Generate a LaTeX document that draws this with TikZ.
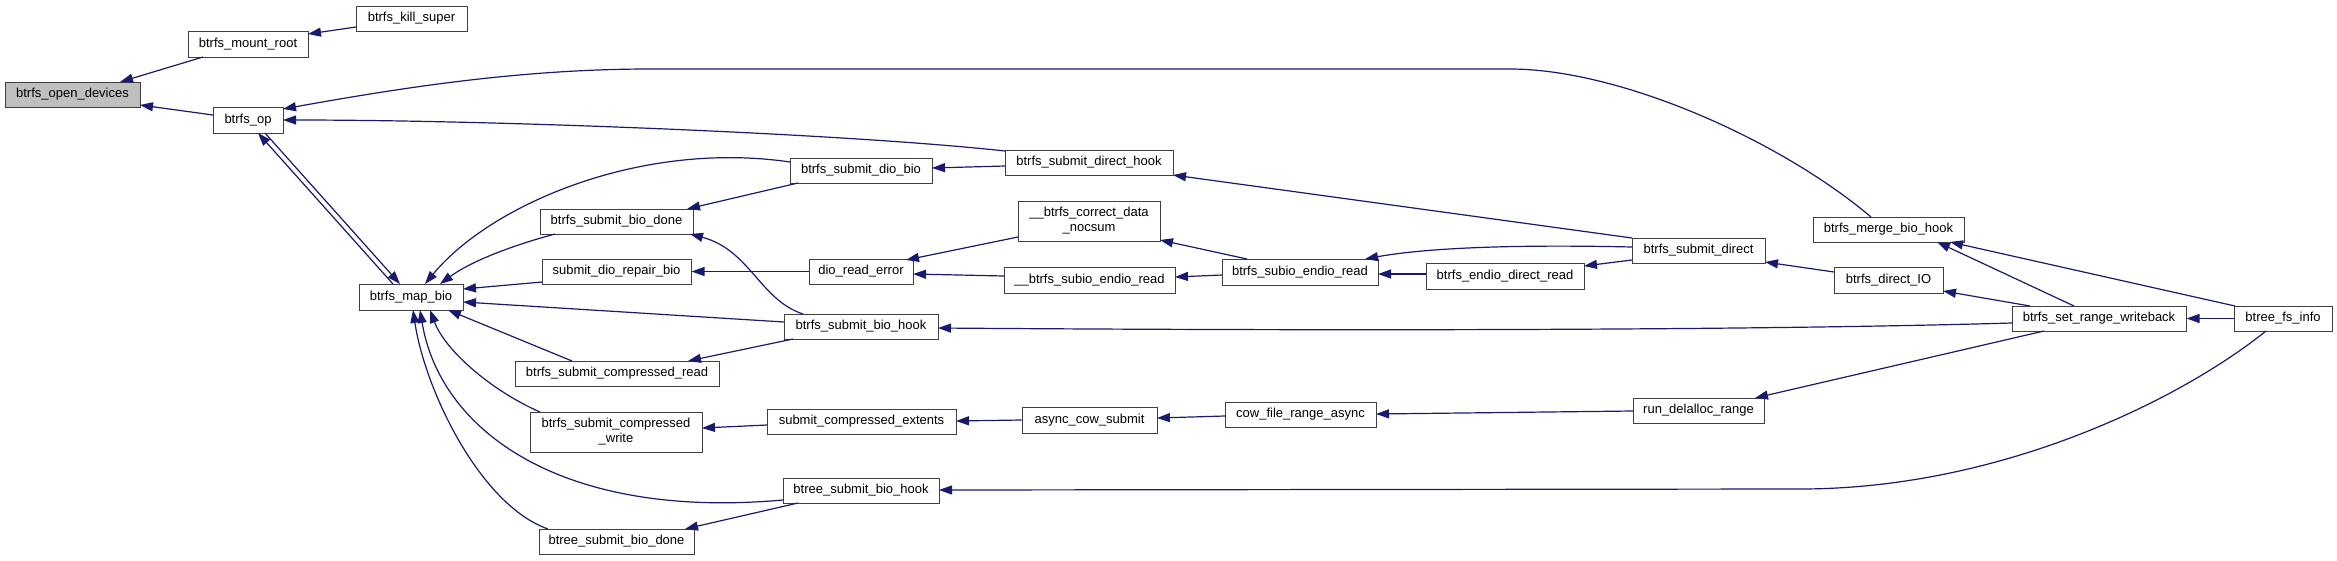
\documentclass[tikz,border=0pt]{standalone}
\usepackage{fontspec}
\setmainfont{Liberation Sans}
\usetikzlibrary{arrows.meta}
\definecolor{edgeblue}{HTML}{191970}
\begin{document}
\begin{tikzpicture}[x=1pt,y=-1pt,
  fn/.style={draw=black!75, line width=1pt, fill=white, inner sep=0pt,
    font=\fontsize{13}{15}\selectfont, align=center, text=black, minimum height=25},
  callarrow/.style={draw=edgeblue, line width=1.2pt, -{Triangle[length=13pt,width=9pt]}},
  ]
\fill[white] (0,0) rectangle (2337,560);
\useasboundingbox (0,0) rectangle (2337,560);

% nodes
\node[fn, fill=black!25, minimum width=135] (open) at (72.5,94.5) {btrfs\_open\_devices};
\node[fn, minimum width=120, minimum height=26] (mount) at (248,44) {btrfs\_mount\_root};
\node[fn, minimum width=111] (kill) at (411.5,18.5) {btrfs\_kill\_super};
\node[fn, minimum width=70, minimum height=26] (op) at (248,120) {btrfs\_op};
\node[fn, minimum width=104, minimum height=26] (mapbio) at (411,297) {btrfs\_map\_bio};
\node[fn, minimum width=142] (diobio) at (861,170.5) {btrfs\_submit\_dio\_bio};
\node[fn, minimum width=153] (biodone) at (616.5,221.5) {btrfs\_submit\_bio\_done};
\node[fn, minimum width=149] (repair) at (616.5,271.5) {submit\_dio\_repair\_bio};
\node[fn, minimum width=104] (dioerr) at (861,271.5) {dio\_read\_error};
\node[fn, minimum width=154] (biohook) at (861,326.5) {btrfs\_submit\_bio\_hook};
\node[fn, minimum width=204] (cread) at (617,373.5) {btrfs\_submit\_compressed\_read};
\node[fn, minimum width=172, minimum height=40] (cwrite) at (616,432) {btrfs\_submit\_compressed\\\_write};
\node[fn, minimum width=189] (cext) at (861.5,421.5) {submit\_compressed\_extents};
\node[fn, minimum width=156] (bthook) at (861,490.5) {btree\_submit\_bio\_hook};
\node[fn, minimum width=155] (btdone) at (616.5,541.5) {btree\_submit\_bio\_done};
\node[fn, minimum width=168] (dhook) at (1089,162.5) {btrfs\_submit\_direct\_hook};
\node[fn, minimum width=142, minimum height=40] (correct) at (1089,221) {\_\_btrfs\_correct\_data\\\_nocsum};
\node[fn, minimum width=171, minimum height=26] (usubio) at (1089.5,280) {\_\_btrfs\_subio\_endio\_read};
\node[fn, minimum width=135, minimum height=26] (acow) at (1089.5,420) {async\_cow\_submit};
\node[fn, minimum width=156, minimum height=26] (subio) at (1300,272) {btrfs\_subio\_endio\_read};
\node[fn, minimum width=151] (cowasync) at (1300.5,414.5) {cow\_file\_range\_async};
\node[fn, minimum width=158, minimum height=26] (endio) at (1505,276) {btrfs\_endio\_direct\_read};
\node[fn, minimum width=133] (sdirect) at (1698.5,250.5) {btrfs\_submit\_direct};
\node[fn, minimum width=131] (rundel) at (1698.5,410.5) {run\_delalloc\_range};
\node[fn, minimum width=151] (merge) at (1888.5,229.5) {btrfs\_merge\_bio\_hook};
\node[fn, minimum width=109, minimum height=26] (dirio) at (1888.5,280) {btrfs\_direct\_IO};
\node[fn, minimum width=174] (setrange) at (2099,318.5) {btrfs\_set\_range\_writeback};
\node[fn, minimum width=98] (fsinfo) at (2283,318.5) {btree\_fs\_info};

% edges (caller -> callee, arrow at callee)
\draw[callarrow] ([shift={(-45,13)}]mount.center) -- ([shift={(47.5,-12.5)}]open.center);
\draw[callarrow] ([shift={(-55.5,8.5)}]kill.center) -- ([shift={(60,-10)}]mount.center);
\draw[callarrow] ([shift={(-35,-5)}]op.center) -- ([shift={(67.5,10.5)}]open.center);
\draw[callarrow] ([shift={(-17.5,-12.5)}]merge.center) .. controls (1780,140) and (1620,69) .. (1510,69) -- (650,69) .. controls (520,69) and (400,88) .. ([shift={(35,-11)}]op.center);
\draw[callarrow] ([shift={(-84,-11.5)}]dhook.center) .. controls (850,134) and (500,120) .. ([shift={(35,0)}]op.center);
\draw[callarrow] ([shift={(-18,-13)}]mapbio.center) -- ([shift={(10,13)}]op.center);
\draw[callarrow] ([shift={(17,13)}]op.center) -- ([shift={(-11,-13)}]mapbio.center);
\draw[callarrow] ([shift={(-71,-8.5)}]diobio.center) .. controls (640,140) and (490,205) .. ([shift={(14,-13)}]mapbio.center);
\draw[callarrow] ([shift={(-61.5,12.5)}]biodone.center) .. controls (510,246) and (470,262) .. ([shift={(29,-13)}]mapbio.center);
\draw[callarrow] ([shift={(-74.5,10.5)}]repair.center) -- ([shift={(52,-8)}]mapbio.center);
\draw[callarrow] ([shift={(-77,-4.5)}]biohook.center) -- ([shift={(52,5)}]mapbio.center);
\draw[callarrow] ([shift={(-45,-12.5)}]cread.center) -- ([shift={(37,13)}]mapbio.center);
\draw[callarrow] ([shift={(-76,-20)}]cwrite.center) .. controls (490,390) and (445,350) .. ([shift={(19,13)}]mapbio.center);
\draw[callarrow] ([shift={(-78,9.5)}]bthook.center) .. controls (560,520) and (440,430) .. ([shift={(9,13)}]mapbio.center);
\draw[callarrow] ([shift={(-68.5,-12.5)}]btdone.center) .. controls (480,505) and (425,390) .. ([shift={(2,13)}]mapbio.center);
\draw[callarrow] ([shift={(-63,12.5)}]bthook.center) -- ([shift={(68.5,-12.5)}]btdone.center);
\draw[callarrow] ([shift={(-68,12.5)}]biohook.center) -- ([shift={(71,-12.5)}]cread.center);
\draw[callarrow] ([shift={(-58,-12.5)}]biohook.center) .. controls (760,300) and (750,250) .. ([shift={(73.5,12.5)}]biodone.center);
\draw[callarrow] ([shift={(-63,12.5)}]diobio.center) -- ([shift={(70.5,-12.5)}]biodone.center);
\draw[callarrow] ([shift={(-84,3.5)}]dhook.center) -- ([shift={(71,-2.5)}]diobio.center);
\draw[callarrow] (dioerr.west) -- (repair.east);
\draw[callarrow] ([shift={(-71,16)}]correct.center) -- ([shift={(45,-11.5)}]dioerr.center);
\draw[callarrow] ([shift={(-85.5,-4)}]usubio.center) -- ([shift={(52,2.5)}]dioerr.center);
\draw[callarrow] ([shift={(-53,-13)}]subio.center) -- ([shift={(71,19)}]correct.center);
\draw[callarrow] ([shift={(-78,3)}]subio.center) -- ([shift={(85.5,-3)}]usubio.center);
\draw[callarrow] ([shift={(-66.5,-3.5)}]sdirect.center) .. controls (1500,244) and (1420,249) .. ([shift={(65,-13)}]subio.center);
\draw[callarrow] ([shift={(-79,-2)}]endio.center) -- ([shift={(78,2)}]subio.center);
\draw[callarrow] ([shift={(-66.5,9.5)}]sdirect.center) -- ([shift={(79,-10)}]endio.center);
\draw[callarrow] ([shift={(-66.5,-12.5)}]sdirect.center) -- ([shift={(84,12.5)}]dhook.center);
\draw[callarrow] ([shift={(-54.5,-8)}]dirio.center) -- ([shift={(66.5,11.5)}]sdirect.center);
\draw[callarrow] ([shift={(-69,-12.5)}]setrange.center) -- ([shift={(54.5,11)}]dirio.center);
\draw[callarrow] ([shift={(-25,-12.5)}]setrange.center) -- ([shift={(48.5,12.5)}]merge.center);
\draw[callarrow] ([shift={(-48,-12.5)}]fsinfo.center) -- ([shift={(61.5,12.5)}]merge.center);
\draw[callarrow] (fsinfo.west) -- (setrange.east);
\draw[callarrow] ([shift={(-87,4.5)}]setrange.center) .. controls (1700,332) and (1200,330) .. ([shift={(77,1.5)}]biohook.center);
\draw[callarrow] ([shift={(-55,12.5)}]setrange.center) -- ([shift={(56.5,-12.5)}]rundel.center);
\draw[callarrow] ([shift={(-65.5,0.5)}]rundel.center) -- ([shift={(75.5,-0.5)}]cowasync.center);
\draw[callarrow] ([shift={(-75.5,1.5)}]cowasync.center) -- ([shift={(67.5,-2)}]acow.center);
\draw[callarrow] (acow.west) -- ([shift={(94.5,-0.5)}]cext.center);
\draw[callarrow] ([shift={(-94.5,3.5)}]cext.center) -- ([shift={(86,-4)}]cwrite.center);
\draw[callarrow] ([shift={(-17,12.5)}]fsinfo.center) .. controls (2180,400) and (2000,489) .. (1800,489) -- ([shift={(78,-0.5)}]bthook.center);
\end{tikzpicture}
\end{document}
